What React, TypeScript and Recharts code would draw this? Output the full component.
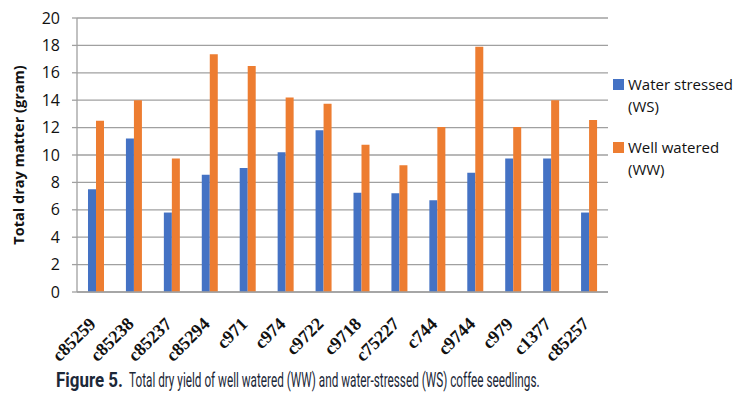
import { useLayoutEffect, useRef, useState } from "react"
import { BarChart, Bar, XAxis, YAxis, CartesianGrid } from "recharts"

const clones = [
  "c85259", "c85238", "c85237", "c85294", "c971", "c974", "c9722",
  "c9718", "c75227", "c744", "c9744", "c979", "c1377", "c85257",
]
const waterStressed = [7.5, 11.2, 5.8, 8.55, 9.05, 10.2, 11.8, 7.25, 7.2, 6.7, 8.7, 9.75, 9.75, 5.8]
const wellWatered = [12.5, 14.0, 9.75, 17.35, 16.5, 14.2, 13.75, 10.75, 9.25, 12.05, 17.9, 12.05, 14.0, 12.55]
const yTicks = [0, 2, 4, 6, 8, 10, 12, 14, 16, 18, 20]

const data = clones.map((clone, i) => ({
  clone,
  ws: waterStressed[i],
  ww: wellWatered[i],
}))

const BLUE = "#4472c4"
const ORANGE = "#ed7d31"
const GRID = "#a0a0a0"

function CloneTick({ x, y, payload }: any) {
  return (
    <text
      x={x + 1}
      y={y + 25}
      transform={`rotate(-45 ${x + 1} ${y + 25})`}
      textAnchor="end"
      fontFamily="'Liberation Serif', serif"
      fontWeight="bold"
      fontSize={18}
      fill="#111"
    >
      {payload.value}
    </text>
  )
}

function SideLegend() {
  const items = [
    { color: BLUE, lines: ["Water stressed", "(WS)"] },
    { color: ORANGE, lines: ["Well watered", "(WW)"] },
  ]
  return (
    <div
      style={{
        position: "absolute",
        left: 613,
        top: 73,
        fontFamily: "'Open Sans', sans-serif",
        fontSize: 15,
        color: "#111",
      }}
    >
      {items.map((item) => (
        <div key={item.color} style={{ display: "flex", alignItems: "flex-start", marginBottom: 19 }}>
          <span
            style={{
              width: 11,
              height: 11,
              background: item.color,
              marginTop: 6,
              marginRight: 4,
              flexShrink: 0,
            }}
          />
          <div style={{ lineHeight: "22px" }}>
            {item.lines.map((l) => (
              <div key={l}>{l}</div>
            ))}
          </div>
        </div>
      ))}
    </div>
  )
}

// condensed caption: squeeze the text horizontally to the width it has in the figure
function SqueezedText({ x, y, width, bold, children }: any) {
  const ref = useRef<SVGTextElement>(null)
  const [sx, setSx] = useState(1)
  useLayoutEffect(() => {
    if (ref.current) {
      const w = ref.current.getComputedTextLength()
      if (w > 0) setSx(width / w)
    }
  }, [width])
  return (
    <text
      ref={ref}
      x={0}
      y={0}
      transform={`translate(${x} ${y}) scale(${sx} 1)`}
      fontFamily="Roboto, sans-serif"
      fontWeight={bold ? "bold" : "normal"}
      fontSize={20}
      fill="#1c2838"
    >
      {children}
    </text>
  )
}

export default function App() {
  return (
    <div style={{ position: "absolute", left: 0, top: 0, width: 743, height: 397, background: "#fff" }}>
      <BarChart
        width={743}
        height={397}
        data={data}
        margin={{ top: 18, right: 135, bottom: 75, left: 0 }}
        barCategoryGap="29%"
        barGap={0}
      >
        <CartesianGrid vertical={false} stroke={GRID} strokeWidth={1.3} />
        <XAxis
          dataKey="clone"
          height={30}
          interval={0}
          tickLine={false}
          axisLine={{ stroke: GRID, strokeWidth: 1.3 }}
          tick={<CloneTick />}
        />
        <YAxis
          width={77}
          domain={[0, 20]}
          ticks={yTicks}
          interval={0}
          axisLine={{ stroke: GRID, strokeWidth: 1.3 }}
          tickLine={{ stroke: GRID, strokeWidth: 1.3 }}
          tickSize={5}
          tickMargin={12}
          tick={{ fill: "#111", fontSize: 16, fontFamily: "'Open Sans', sans-serif" }}
          label={{
            value: "Total dray matter (gram)",
            angle: -90,
            position: "insideLeft",
            offset: 19,
            style: {
              textAnchor: "middle",
              fontFamily: "'Open Sans', sans-serif",
              fontWeight: "bold",
              fontSize: 14.5,
              fill: "#111",
            },
          }}
        />
        <Bar dataKey="ws" name="Water stressed (WS)" fill={BLUE} isAnimationActive={false} />
        <Bar dataKey="ww" name="Well watered (WW)" fill={ORANGE} isAnimationActive={false} />
      </BarChart>
      <SideLegend />
      <svg width={743} height={32} style={{ position: "absolute", left: 0, top: 364 }}>
        <SqueezedText x={56} y={23} width={67} bold>
          Figure 5.
        </SqueezedText>
        <SqueezedText x={129} y={23} width={411}>
          Total dry yield of well watered (WW) and water-stressed (WS) coffee seedlings.
        </SqueezedText>
      </svg>
    </div>
  )
}
